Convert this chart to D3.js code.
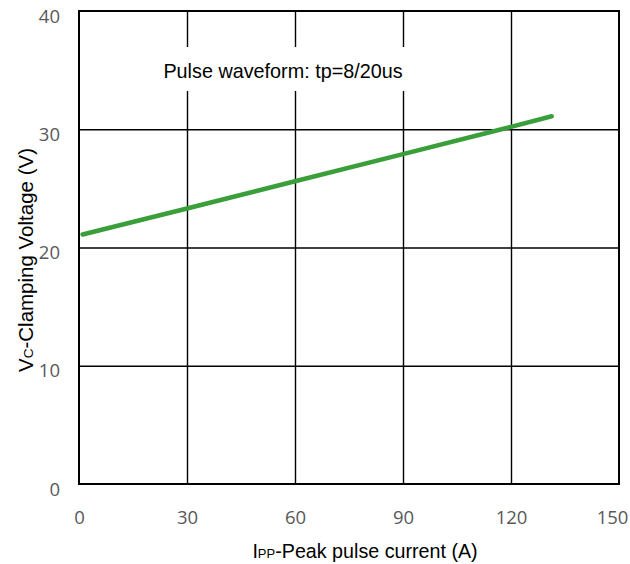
<!DOCTYPE html>
<html>
<head>
<meta charset="utf-8">
<script src="https://cdn.jsdelivr.net/npm/d3@7"></script>
<style>
  body { margin: 0; background: #fff; }
</style>
</head>
<body>
<main></main>
<script>
// Data
const current = [1, 30, 60, 90, 120, 131.3];
const voltage = [21.1, 23.3, 25.6, 27.9, 30.2, 31.1];
const xTicks = [0, 30, 60, 90, 120, 150];
const yTicks = [0, 10, 20, 30, 40];
const note = "Pulse waveform: tp=8/20us";

// Dimensions
const w = 630;
const h = 564;
const plotLeft = 79;
const plotRight = 619;
const plotTop = 11;
const plotBottom = 484;

const svg = d3
  .select("main")
  .append("svg")
  .attr("width", w)
  .attr("height", h);

const xScale = d3.scaleLinear().domain([0, 150]).range([plotLeft, plotRight]);
const yScale = d3.scaleLinear().domain([0, 40]).range([plotBottom, plotTop]);

// Grid lines
svg
  .append("g")
  .attr("transform", `translate(0, ${plotBottom})`)
  .call(d3.axisBottom(xScale).tickValues(xTicks.slice(1, -1)).tickFormat("").tickSize(-(plotBottom - plotTop)).tickSizeOuter(0))
  .call((g) => g.select(".domain").remove())
  .selectAll("line")
  .attr("stroke", "#000")
  .attr("stroke-width", 1.4);

svg
  .append("g")
  .attr("transform", `translate(${plotLeft}, 0)`)
  .call(d3.axisLeft(yScale).tickValues(yTicks.slice(1, -1)).tickFormat("").tickSize(-(plotRight - plotLeft)).tickSizeOuter(0))
  .call((g) => g.select(".domain").remove())
  .selectAll("line")
  .attr("stroke", "#000")
  .attr("stroke-width", 1.4);

// Annotation with white box behind it
const noteG = svg.append("g");
const noteText = noteG
  .append("text")
  .attr("x", 283)
  .attr("y", 78)
  .attr("text-anchor", "middle")
  .attr("font-family", "Liberation Sans, Arial, sans-serif")
  .attr("font-size", 19.8)
  .attr("fill", "#000")
  .text(note);
const bb = noteText.node().getBBox();
noteG
  .insert("rect", "text")
  .attr("x", bb.x - 8)
  .attr("y", bb.y - 13)
  .attr("width", bb.width + 16)
  .attr("height", bb.height + 22)
  .attr("fill", "#fff");

// Frame
svg
  .append("rect")
  .attr("x", plotLeft)
  .attr("y", plotTop)
  .attr("width", plotRight - plotLeft)
  .attr("height", plotBottom - plotTop)
  .attr("fill", "none")
  .attr("stroke", "#000")
  .attr("stroke-width", 2);

// Curve
const line = d3
  .line()
  .x((d, i) => xScale(current[i]))
  .y((d) => yScale(d));

svg
  .append("path")
  .datum(voltage)
  .attr("d", line)
  .attr("fill", "none")
  .attr("stroke", "#3a9e3a")
  .attr("stroke-width", 4.5)
  .attr("stroke-linecap", "round");

// Tick labels
const xAxis = svg
  .append("g")
  .attr("transform", `translate(0, ${plotBottom})`)
  .call(d3.axisBottom(xScale).tickValues(xTicks).tickSize(0).tickPadding(27));
xAxis.select(".domain").remove();
xAxis
  .selectAll("text")
  .attr("font-family", "Open Sans, sans-serif")
  .attr("font-size", 18.5)
  .attr("fill", "#595959")
  .attr("dx", (d) => (d === 150 ? -7 : 0));

const yAxis = svg
  .append("g")
  .attr("transform", `translate(${plotLeft}, 0)`)
  .call(d3.axisLeft(yScale).tickValues(yTicks).tickSize(0).tickPadding(19));
yAxis.select(".domain").remove();
yAxis
  .selectAll("text")
  .attr("font-family", "Open Sans, sans-serif")
  .attr("font-size", 18.5)
  .attr("fill", "#595959")
  .attr("dy", "0.6em");

// Axis titles
const xTitle = svg
  .append("text")
  .attr("x", 365)
  .attr("y", 558)
  .attr("text-anchor", "middle")
  .attr("font-family", "Liberation Sans, Arial, sans-serif")
  .attr("font-size", 19.7)
  .attr("fill", "#000");
xTitle.append("tspan").text("I");
xTitle.append("tspan").attr("font-size", 13).text("PP");
xTitle.append("tspan").text("-Peak pulse current (A)");

const yTitle = svg
  .append("text")
  .attr("transform", `translate(33, 260) rotate(-90)`)
  .attr("text-anchor", "middle")
  .attr("font-family", "Liberation Sans, Arial, sans-serif")
  .attr("font-size", 20.5)
  .attr("fill", "#000");
yTitle.append("tspan").text("V");
yTitle.append("tspan").attr("font-size", 13.5).text("C");
yTitle.append("tspan").text("-Clamping Voltage (V)");
</script>
</body>
</html>
